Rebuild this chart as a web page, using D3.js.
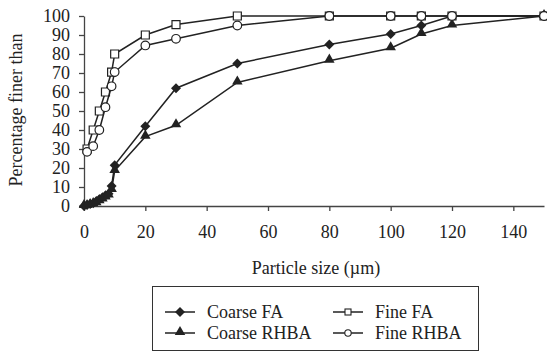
<!DOCTYPE html>
<html>
<head>
<meta charset="utf-8">
<script src="https://cdn.jsdelivr.net/npm/d3@7"></script>
<style>
  body { margin: 0; background: #fff; }
  svg { display: block; }
  svg text { font-family: "Liberation Serif", "Times New Roman", serif; }
</style>
</head>
<body>
<div id="chart"></div>
<script>
// particle size (um) and percentage finer than
const coarseFaX = [0, 1, 2, 3, 4, 5, 6, 7, 8, 9, 10, 20, 30, 50, 80, 100, 110, 120, 150];
const coarseFaY = [0, 0.5, 1, 1.5, 2.5, 3.5, 4.5, 5.5, 6.5, 10.5, 21.5, 42, 62, 75, 85, 90.5, 95, 100, 100];
const coarseRhbaX = [0, 1, 2, 3, 4, 5, 6, 7, 8, 9, 10, 20, 30, 50, 80, 100, 110, 120, 150];
const coarseRhbaY = [0, 0, 0.5, 1, 1.5, 2.5, 3.5, 4.5, 5.5, 8.5, 18.5, 36.5, 42.5, 65, 76.5, 83, 90.5, 95, 100];
const fineFaX = [1, 3, 5, 7, 9, 10, 20, 30, 50, 80, 100, 110, 120, 150];
const fineFaY = [30, 40, 50, 60, 70.5, 80, 90, 95.5, 100, 100, 100, 100, 100, 100];
const fineRhbaX = [1, 3, 5, 7, 9, 10, 20, 30, 50, 80, 100, 110, 120, 150];
const fineRhbaY = [28.5, 31.5, 40, 52, 63, 70.5, 84.5, 88, 95, 100, 100, 100, 100, 100];
const xTicks = [0, 20, 40, 60, 80, 100, 120, 140];
const yTicks = [0, 10, 20, 30, 40, 50, 60, 70, 80, 90, 100];

const width = 547, height = 352;
const ink = "#222";
const fs = 18;

const x = d3.scaleLinear().domain([0, 150]).range([84, 544]);
const y = d3.scaleLinear().domain([0, 100]).range([206, 16]);

const svg = d3.select("#chart").append("svg")
    .attr("width", width)
    .attr("height", height);

// axes
const xAxis = svg.append("g")
    .attr("transform", "translate(0," + y(0) + ")")
    .call(d3.axisBottom(x).tickValues(xTicks).tickSize(5).tickPadding(14).tickSizeOuter(0));
const yAxis = svg.append("g")
    .attr("transform", "translate(" + x(0) + ",0)")
    .call(d3.axisLeft(y).tickValues(yTicks).tickSize(5).tickPadding(9).tickSizeOuter(0));

[xAxis, yAxis].forEach(a => {
    a.attr("font-family", null).attr("font-size", fs);
    a.select(".domain").attr("stroke", "#444").attr("stroke-width", 1.3);
    a.selectAll(".tick line").attr("stroke", "#444").attr("stroke-width", 1.3);
    a.selectAll(".tick text").attr("fill", ink);
});

svg.append("text")
    .attr("x", 316).attr("y", 274)
    .attr("text-anchor", "middle")
    .attr("font-size", fs)
    .attr("fill", ink)
    .text("Particle size (\u00b5m)");

svg.append("text")
    .attr("transform", "translate(22,110) rotate(-90)")
    .attr("text-anchor", "middle")
    .attr("font-size", fs)
    .attr("fill", ink)
    .text("Percentage finer than");

// series
const series = [
    { name: "Coarse FA", xs: coarseFaX, ys: coarseFaY, shape: "diamond" },
    { name: "Coarse RHBA", xs: coarseRhbaX, ys: coarseRhbaY, shape: "triangle" },
    { name: "Fine FA", xs: fineFaX, ys: fineFaY, shape: "square" },
    { name: "Fine RHBA", xs: fineRhbaX, ys: fineRhbaY, shape: "circle" }
];

function marker(g, shape, px, py) {
    if (shape === "diamond") {
        g.append("path")
            .attr("d", d3.symbol().type(d3.symbolSquare).size(50)())
            .attr("transform", "translate(" + px + "," + py + ") rotate(45)")
            .attr("fill", ink);
    } else if (shape === "triangle") {
        g.append("path")
            .attr("d", d3.symbol().type(d3.symbolTriangle).size(48)())
            .attr("transform", "translate(" + px + "," + (py - 1) + ")")
            .attr("fill", ink);
    } else if (shape === "square") {
        g.append("path")
            .attr("d", d3.symbol().type(d3.symbolSquare).size(64)())
            .attr("transform", "translate(" + px + "," + py + ")")
            .attr("fill", "#fff").attr("stroke", ink).attr("stroke-width", 1.2);
    } else {
        g.append("circle")
            .attr("cx", px).attr("cy", py).attr("r", 4.3)
            .attr("fill", "#fff").attr("stroke", ink).attr("stroke-width", 1.2);
    }
}

const line = d3.line().x(d => x(d[0])).y(d => y(d[1]));

series.forEach(s => {
    const pts = s.xs.map((v, i) => [v, s.ys[i]]);
    const g = svg.append("g");
    g.append("path")
        .attr("d", line(pts))
        .attr("fill", "none")
        .attr("stroke", ink)
        .attr("stroke-width", 1.5);
    pts.forEach(p => marker(g, s.shape, x(p[0]), y(p[1])));
});

// legend
const legend = svg.append("g");
legend.append("rect")
    .attr("x", 152.5).attr("y", 286.5)
    .attr("width", 326).attr("height", 64)
    .attr("fill", "#fff").attr("stroke", "#333").attr("stroke-width", 1);

const legendPos = [
    { lx: 165, ly: 312 }, { lx: 165, ly: 333 },
    { lx: 333, ly: 312 }, { lx: 333, ly: 333 }
];
series.forEach((s, i) => {
    const p = legendPos[i];
    legend.append("line")
        .attr("x1", p.lx).attr("x2", p.lx + 30)
        .attr("y1", p.ly).attr("y2", p.ly)
        .attr("stroke", ink).attr("stroke-width", 1.5);
    if (s.shape === "square") {
        legend.append("rect")
            .attr("x", p.lx + 12).attr("y", p.ly - 3)
            .attr("width", 6).attr("height", 6)
            .attr("fill", "#fff").attr("stroke", ink).attr("stroke-width", 1.1);
    } else if (s.shape === "circle") {
        legend.append("circle")
            .attr("cx", p.lx + 15).attr("cy", p.ly).attr("r", 3.2)
            .attr("fill", "#fff").attr("stroke", ink).attr("stroke-width", 1.1);
    } else {
        marker(legend, s.shape, p.lx + 15, p.ly);
    }
    legend.append("text")
        .attr("x", p.lx + 42).attr("y", p.ly)
        .attr("dy", "0.35em")
        .attr("font-size", fs)
        .attr("fill", ink)
        .text(s.name);
});
</script>
</body>
</html>
